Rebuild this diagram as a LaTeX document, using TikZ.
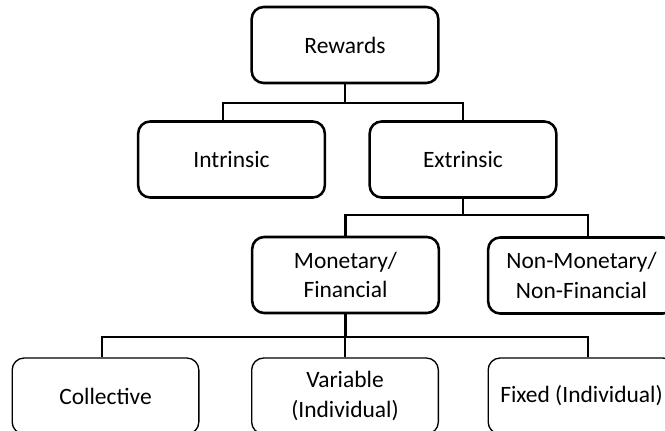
\documentclass[tikz,border=0pt]{standalone}
\usepackage{fontspec}
\setmainfont{Carlito}
\usetikzlibrary{positioning,calc}

\tikzset{
  rbox/.style={draw, line width=1.9pt, rounded corners=9pt, fill=white,
               minimum width=140pt, minimum height=57pt, align=center,
               inner sep=2pt, font=\fontsize{17.6}{22.4}\selectfont},
  leafbox/.style={rbox, line width=1pt},
  link/.style={line width=2pt},
}

\begin{document}
\begin{tikzpicture}[x=0.75pt, y=-0.75pt]
    \clip (0,0) rectangle (665,431);
    % Top levels
    \node[rbox] (rewards) at (345,45) {Rewards};
    \node[rbox] (intrinsic) at (231.5,159.5) {Intrinsic};
    \node[rbox] (extrinsic) at (463,159.5) {Extrinsic};
    \node[rbox] (monetary) at (345.5,275) {Monetary/\\Financial};
    \node[rbox] (nonmonetary) at (581.5,275.5) {Non-Monetary/\\Non-Financial};
    % Leaves
    \node[leafbox] (collective) at (105.5,396) {Collective};
    \node[leafbox] (variable) at (345,396) {Variable\\(Individual)};
    \node[leafbox] (fixed) at (581.5,396) {Fixed (Individual)};
    % Bus levels
    \coordinate (busA) at (0,103);
    \coordinate (busB) at (0,215);
    \coordinate (busC) at (0,337);
    % Connectors
    \draw[link] (rewards.south) -- (rewards.south |- busA);
    \draw[link] ([xshift=-6.4pt]intrinsic.north) |- (extrinsic.north |- busA)
         -- (extrinsic.north);
    \draw[link] (extrinsic.south) -- (extrinsic.south |- busB);
    \draw[link] (monetary.north) |- ([xshift=4.9pt]nonmonetary.north |- busB)
         -- ([xshift=4.9pt]nonmonetary.north);
    \draw[link] (monetary.south) -- (monetary.south |- busC);
    \draw[link] ([xshift=-2.6pt]collective.north) |- ([xshift=4.9pt]fixed.north |- busC)
         -- ([xshift=4.9pt]fixed.north);
    \draw[link] (variable.north) -- (variable.north |- busC);
\end{tikzpicture}
\end{document}
